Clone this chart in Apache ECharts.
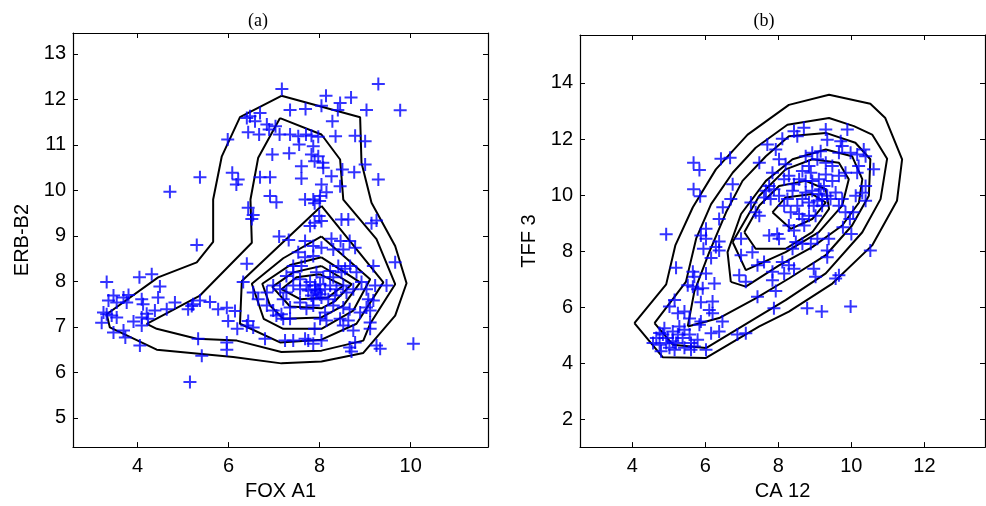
<!DOCTYPE html>
<html>
<head>
<meta charset="utf-8">
<script src="https://cdn.jsdelivr.net/npm/echarts@6/dist/echarts.min.js"></script>
<style>
  html, body { margin: 0; padding: 0; background: #fff; }
  #chart { width: 986px; height: 506px; }
</style>
</head>
<body>
<div id="chart"></div>
<script>
// tick labels
const ticksAX = [4, 6, 8, 10];
const ticksAY = [5, 6, 7, 8, 9, 10, 11, 12, 13];
const ticksBX = [4, 6, 8, 10, 12];
const ticksBY = [2, 4, 6, 8, 10, 12, 14];

// panel (a) points: FOX A1 vs ERB-B2
const pointsA = [
  [7.17,12.23],[9.29,12.34],[8.14,12.08],[8.69,12.04],[8.04,11.86],[8.45,11.92],[8.40,11.77],[7.35,11.77],
  [7.69,11.79],[9.03,11.77],[9.77,11.76],[8.28,11.52],[6.47,11.63],[6.69,11.70],[6.58,11.52],[6.40,11.59],
  [6.84,11.45],[7.03,11.41],[6.43,11.28],[6.67,11.23],[6.89,11.34],[7.12,11.23],[7.35,11.23],[7.53,11.19],
  [7.70,11.23],[7.82,11.20],[7.97,11.18],[8.35,11.19],[8.78,11.20],[9.00,11.08],[7.55,11.01],[7.86,10.97],
  [5.98,11.12],[6.96,10.79],[7.33,10.82],[7.82,10.79],[7.97,10.75],[7.89,10.64],[8.07,10.61],[9.00,10.57],
  [7.60,10.53],[8.08,10.50],[8.50,10.46],[8.76,10.40],[8.26,10.31],[7.60,10.26],[6.91,10.29],[6.69,10.29],
  [6.08,10.39],[6.21,10.24],[6.17,10.13],[5.37,10.29],[9.29,10.24],[8.45,10.09],[8.04,10.13],[8.15,9.96],
  [8.01,9.88],[4.71,9.97],[6.91,9.88],[7.05,9.74],[7.68,9.80],[7.86,9.80],[7.89,9.72],[8.00,9.77],
  [6.43,9.62],[6.51,9.37],[6.54,9.46],[8.48,9.36],[8.63,9.36],[9.14,9.28],[9.25,9.34],[7.99,9.44],
  [7.89,9.29],[8.04,9.33],[7.79,9.22],[5.30,8.80],[7.11,8.99],[7.32,8.91],[7.68,8.89],[8.26,8.94],
  [8.46,8.89],[8.66,8.89],[7.86,8.78],[8.04,8.74],[8.30,8.70],[8.52,8.70],[8.78,8.74],[7.53,8.64],
  [7.68,8.53],[7.86,8.56],[6.40,8.39],[9.66,8.42],[9.18,8.34],[8.41,8.34],[8.56,8.28],[8.67,8.34],
  [7.42,8.20],[7.60,8.34],[4.31,8.16],[4.04,8.09],[3.32,7.99],[4.49,7.89],[6.32,7.99],
  [3.47,7.69],[3.36,7.58],[3.54,7.54],[3.69,7.65],[3.80,7.70],[3.76,7.54],[4.09,7.61],[4.12,7.50],
  [4.45,7.65],[4.82,7.54],[4.64,7.39],[4.38,7.36],[4.20,7.29],[4.09,7.21],[4.23,7.18],[3.25,7.32],
  [3.32,7.28],[3.43,7.25],[3.54,7.21],[3.21,7.09],[3.91,7.12],[4.09,7.03],[3.47,6.88],[3.69,6.92],
  [3.73,6.77],[4.05,6.59],[5.11,7.39],[5.22,7.50],[5.37,7.58],[5.59,7.55],[5.77,7.39],[5.96,7.42],
  [6.14,7.35],[5.99,7.13],[6.19,6.96],[6.43,7.13],[6.40,7.03],[6.54,6.99],[5.19,7.46],[5.33,6.74],
  [5.41,6.37],[5.96,6.66],[5.96,6.50],[5.15,5.79],[6.80,6.74],[7.24,6.70],[7.42,6.70],[7.68,6.74],
  [7.75,6.70],[7.86,6.63],[8.04,6.70],[7.89,6.96],[8.66,6.55],[8.70,6.46],[8.78,6.66],[9.25,6.59],
  [9.33,6.52],[10.06,6.63],[8.74,6.92],[9.11,6.96],[9.11,7.10],
  [6.54,7.76],[6.65,7.61],[6.84,7.76],[6.84,7.47],[6.98,7.36],[7.05,7.25],[7.16,7.28],[7.20,7.18],
  [7.35,7.18],[6.98,7.91],[7.13,7.83],[7.27,7.76],[7.42,7.91],[7.57,7.83],[7.71,7.91],[7.79,7.99],
  [7.90,7.91],[8.01,7.94],[8.12,7.83],[8.23,7.91],[8.37,7.83],[8.52,7.91],[7.93,7.76],[7.82,7.69],
  [8.04,7.65],[8.19,7.61],[8.34,7.69],[8.59,7.76],[8.74,7.83],[8.92,7.99],[9.03,7.83],[9.22,7.91],
  [9.47,7.91],[9.07,7.61],[9.18,7.58],[9.03,7.43],[9.11,7.36],[8.89,7.32],[8.66,7.39],[8.52,7.43],
  [8.30,7.47],[8.12,7.32],[8.01,7.18],[8.15,7.14],[8.45,7.18],[8.63,7.14],[8.52,7.03],[7.57,7.54],
  [7.35,7.43],[7.20,7.61],[7.71,7.40],[7.86,7.47],[7.27,8.12],[7.42,8.34],[7.93,8.20],[8.23,8.23],
  [8.30,8.09],[8.48,8.20],[8.81,8.20],[7.57,8.05],[8.08,8.09],[7.90,7.83],[7.97,7.80],[7.75,7.80],
  [8.01,7.72],[7.86,7.61]
];

// panel (a) density contours
const contA1 = [[7.16,12.08],[8.89,11.61],[8.92,10.61],[9.14,9.73],[9.66,8.78],[9.91,7.96],[9.66,7.25],
  [8.96,6.43],[8.04,6.24],[7.16,6.20],[6.10,6.34],[4.42,6.50],[3.39,6.99],[3.32,7.28],[4.45,8.09],
  [5.30,8.42],[5.66,8.87],[5.66,9.80],[5.85,10.75],[6.25,11.61],[7.16,12.08]];
const contA2 = [[7.13,11.59],[8.04,11.23],[8.45,10.68],[8.52,9.80],[9.25,8.93],[9.66,7.94],[9.11,7.07],
  [8.96,6.70],[8.04,6.48],[7.16,6.45],[6.18,6.70],[5.30,6.74],[4.42,6.96],[4.20,7.07],[5.37,7.69],
  [6.51,8.85],[6.48,9.80],[6.65,10.72],[7.13,11.59]];
const contA3 = [[8.04,9.66],[9.40,7.98],[8.81,7.07],[8.04,6.72],[7.13,6.66],[6.25,7.07],[6.29,8.01],[8.04,9.66]];
const contA4 = [[8.04,8.99],[9.11,8.05],[8.74,7.36],[8.04,6.96],[7.20,6.96],[6.77,7.18],[6.51,7.95],[7.20,8.51],[8.04,8.99]];
const contA5 = [[8.04,8.53],[8.89,7.98],[8.52,7.47],[8.04,7.21],[7.20,7.18],[6.91,7.47],[6.74,7.95],[7.35,8.36],[8.04,8.53]];
const contA6 = [[8.04,8.34],[8.70,7.94],[8.34,7.57],[8.04,7.41],[7.35,7.45],[6.96,7.88],[7.42,8.20],[8.04,8.34]];
const contA7 = [[8.00,8.16],[8.52,7.91],[8.19,7.65],[7.57,7.61],[7.16,7.83],[7.49,8.09],[8.00,8.16]];

// panel (b) points: CA 12 vs TFF 3
const pointsB = [
  [5.68,11.16],[5.84,10.90],[5.68,10.21],[5.86,9.96],[4.93,8.61],[6.43,11.30],[6.68,11.33],[6.75,10.39],
  [6.70,9.86],[6.48,9.57],[6.38,9.15],[6.02,8.80],[5.88,8.56],[6.02,8.45],[6.38,8.35],[6.29,8.15],
  [6.38,8.03],[5.95,8.09],[6.16,7.76],[5.20,7.41],[5.66,7.27],[5.70,7.09],[6.02,7.21],[6.25,6.85],
  [5.52,6.79],[5.66,6.74],[5.79,6.65],[5.93,6.68],[5.88,6.18],[6.20,6.21],[6.11,5.91],[6.20,5.79],
  [5.16,6.26],[5.02,6.03],[5.25,5.79],[5.43,5.85],[5.57,5.60],[5.88,5.50],[5.84,5.38],[6.47,5.50],
  [6.38,5.14],[6.16,5.08],[6.88,5.03],[7.11,5.08],
  [4.66,4.91],[4.75,4.67],[4.88,5.26],[4.84,5.03],[4.97,4.91],[5.11,4.79],[5.02,4.56],[5.16,4.49],
  [5.25,5.03],[5.20,4.73],[5.38,4.91],[5.43,5.20],[5.29,5.32],[5.57,5.03],[5.61,4.73],[5.70,4.61],
  [5.79,4.85],[6.02,4.49],[4.79,4.44],[4.93,4.73],[4.75,5.09],[5.11,5.14],[5.43,4.56],[5.61,4.49],
  [4.57,4.73],
  [6.98,8.45],[6.98,7.86],[6.93,7.15],[7.11,6.91],[7.29,7.97],[7.25,9.74],[7.38,9.39],[7.48,9.27],
  [7.43,7.50],[7.61,7.62],[7.43,6.38],[7.84,6.97],[7.93,6.58],[7.88,5.97],[7.84,7.27],[7.75,8.56],
  [7.97,8.62],[8.02,8.45],[8.11,7.62],[8.16,7.21],[8.29,7.50],[8.43,7.38],[8.39,8.09],[8.48,8.33],
  [8.66,8.27],[8.89,8.27],[9.07,8.45],[8.97,7.38],[9.02,7.09],[9.34,8.03],[9.34,7.79],[9.38,8.45],
  [9.66,7.15],[9.57,7.03],[8.79,5.97],[9.19,5.85],[9.98,6.03],[10.52,8.03],[9.77,8.86],[10.00,8.62],
  [10.05,9.39],[9.96,9.15],[8.43,8.74],[8.29,8.92],[8.71,8.92],
  [8.43,12.28],[8.70,12.40],[8.52,12.10],[9.30,12.34],[9.89,12.34],[9.34,11.98],[9.71,11.92],[9.75,11.75],
  [7.70,11.81],[8.11,12.01],[7.93,11.63],[7.48,11.16],[8.02,11.28],[8.20,11.10],[7.84,10.80],[7.75,10.33],
  [7.88,10.21],[8.02,9.98],[8.16,10.57],[8.29,10.69],[8.43,10.39],[8.57,10.57],[8.75,11.39],[8.93,11.51],
  [9.16,11.57],[9.07,11.28],[8.84,11.04],[9.30,11.16],[9.48,11.04],[9.66,11.51],[9.98,11.51],[10.16,11.45],
  [10.34,11.63],[10.39,11.39],[10.20,11.04],[10.61,10.92],[10.16,10.80],[10.39,10.33],[10.30,10.09],[10.39,9.80],
  [10.12,9.98],[9.84,10.80],[9.66,10.69],[9.48,10.51],[9.57,10.10],[9.43,9.86],[9.20,9.62],[8.97,9.62],
  [8.84,9.74],[8.66,9.86],[8.52,9.62],[8.34,9.39],[8.16,9.62],[8.25,9.86],[8.39,10.16],[8.75,10.10],
  [8.93,10.16],[9.11,10.04],[9.25,10.33],[9.11,10.57],[8.93,10.51],[8.75,10.51],[8.66,10.86],[8.89,10.80],
  [9.30,10.74],[9.75,9.86],[9.66,9.62],[9.84,9.39],[8.84,9.27],[9.02,9.27],[8.66,9.15],[8.57,9.33],
  [7.61,9.92],[7.66,10.16],[7.79,9.86],[9.20,9.86],[9.34,9.98],[9.07,9.80],[9.16,10.21]
];

// panel (b) density contours
const contB1 = [[4.06,5.44],[4.84,4.22],[6.02,4.20],[7.48,5.32],[8.29,5.85],[9.48,6.85],[10.57,8.21],
  [11.25,9.80],[11.39,11.28],[10.93,12.75],[10.52,13.26],[9.39,13.58],[8.29,13.22],[7.16,12.16],
  [6.29,10.92],[5.66,9.57],[5.18,8.21],[4.93,6.82],[4.06,5.44]];
const contB2 = [[4.61,5.44],[5.11,4.67],[6.02,4.55],[7.38,5.62],[8.20,6.26],[9.30,7.21],[10.30,8.68],
  [10.80,9.86],[10.98,11.30],[10.57,12.16],[10.07,12.46],[9.39,12.75],[8.25,12.51],[7.38,11.69],
  [6.75,10.80],[6.16,9.68],[5.75,8.45],[5.47,6.91],[4.61,5.44]];
const contB3 = [[5.52,5.32],[5.70,6.56],[6.11,7.97],[6.57,9.39],[7.02,10.51],[7.66,11.39],[8.29,12.10],
  [9.30,12.22],[10.11,11.87],[10.52,11.28],[10.48,9.98],[10.02,8.92],[9.30,7.86],[8.29,7.03],
  [7.38,6.32],[6.38,5.62],[5.52,5.32]];
const contB4 = [[6.70,6.91],[6.61,7.97],[6.98,9.33],[7.66,10.51],[8.39,11.28],[9.30,11.63],[10.02,11.39],
  [10.30,10.57],[10.21,9.74],[9.75,8.92],[8.93,8.15],[8.02,7.50],[7.11,6.74],[6.70,6.91]];
const contB5 = [[6.75,8.33],[7.11,7.33],[8.20,7.97],[9.11,8.68],[9.75,9.63],[9.93,10.57],[9.66,11.16],
  [8.93,11.28],[8.20,10.92],[7.48,9.98],[6.75,8.33]];
const contB6 = [[7.07,8.68],[7.38,8.09],[8.20,8.09],[8.93,8.68],[9.39,9.51],[9.30,10.21],[8.75,10.51],
  [8.02,10.33],[7.48,9.63],[7.07,8.68]];
const contB7 = [[7.84,9.39],[8.34,8.80],[8.93,9.15],[9.30,9.74],[8.93,10.04],[8.20,9.92],[7.84,9.39]];

const contoursA = [contA1, contA2, contA3, contA4, contA5, contA6, contA7];
const contoursB = [contB1, contB2, contB3, contB4, contB5, contB6, contB7];

const sans = '"Liberation Sans", Arial, Helvetica, sans-serif';
const serif = '"Liberation Serif", "Times New Roman", serif';
const black = '#000';
const plusPath = 'path://M0,5L10,5M5,0L5,10';

function mkAxis(type, grid, pos, min, max, ticks, name, nameGap, showLabel) {
  return {
    type: 'value', gridIndex: grid, position: pos, min: min, max: max,
    name: name, nameLocation: 'middle', nameGap: nameGap,
    nameTextStyle: { color: black, fontSize: 20, fontFamily: sans },
    axisLine: { show: true, onZero: false, lineStyle: { color: black, width: 1.2 } },
    axisTick: { show: true, inside: true, length: 5, customValues: ticks, lineStyle: { color: black, width: 1 } },
    axisLabel: { show: showLabel, customValues: ticks, color: black, fontSize: 20, fontFamily: sans,
      margin: type === 'x' ? 9 : 7 },
    splitLine: { show: false }
  };
}

const series = [];
contoursA.forEach(function (c) {
  series.push({ type: 'line', xAxisIndex: 0, yAxisIndex: 0, data: c, symbol: 'none', silent: true,
    lineStyle: { color: black, width: 2 }, z: 2 });
});
contoursB.forEach(function (c) {
  series.push({ type: 'line', xAxisIndex: 2, yAxisIndex: 2, data: c, symbol: 'none', silent: true,
    lineStyle: { color: black, width: 2 }, z: 2 });
});
series.push({ type: 'scatter', xAxisIndex: 0, yAxisIndex: 0, data: pointsA, symbol: plusPath, symbolSize: 13,
  itemStyle: { color: 'none', borderColor: '#0000ff', borderWidth: 2 }, z: 3 });
series.push({ type: 'scatter', xAxisIndex: 2, yAxisIndex: 2, data: pointsB, symbol: plusPath, symbolSize: 13,
  itemStyle: { color: 'none', borderColor: '#0000ff', borderWidth: 2 }, z: 3 });

const chart = echarts.init(document.getElementById('chart'), null, { renderer: 'canvas' });
chart.setOption({
  animation: false,
  backgroundColor: '#fff',
  title: [
    { text: '(a)', left: 253, top: 7, textAlign: 'center',
      textStyle: { fontFamily: serif, fontWeight: 'normal', fontSize: 18, color: black } },
    { text: '(b)', left: 759, top: 7, textAlign: 'center',
      textStyle: { fontFamily: serif, fontWeight: 'normal', fontSize: 18, color: black } }
  ],
  grid: [
    { left: 73, top: 33, width: 415, height: 416 },
    { left: 580, top: 35, width: 405, height: 415 }
  ],
  xAxis: [
    mkAxis('x', 0, 'bottom', 2.58, 11.7, ticksAX, 'FOX A1', 24, true),
    mkAxis('x', 0, 'top', 2.58, 11.7, ticksAX, '', 0, false),
    mkAxis('x', 1, 'bottom', 2.57, 13.66, ticksBX, 'CA 12', 24, true),
    mkAxis('x', 1, 'top', 2.57, 13.66, ticksBX, '', 0, false)
  ],
  yAxis: [
    mkAxis('y', 0, 'left', 4.36, 13.46, ticksAY, 'ERB-B2', 41, true),
    mkAxis('y', 0, 'right', 4.36, 13.46, ticksAY, '', 0, false),
    mkAxis('y', 1, 'left', 1.02, 15.71, ticksBY, 'TFF 3', 41, true),
    mkAxis('y', 1, 'right', 1.02, 15.71, ticksBY, '', 0, false)
  ],
  series: series
});
</script>
</body>
</html>
